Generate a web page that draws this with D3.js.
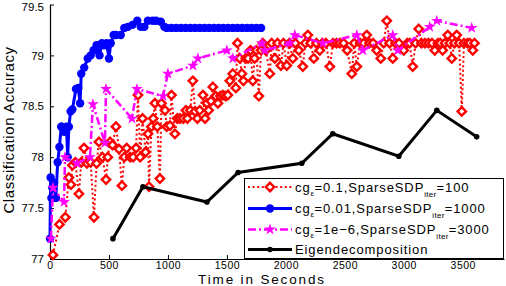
<!DOCTYPE html>
<html>
<head>
<meta charset="utf-8">
<script src="https://cdn.jsdelivr.net/npm/d3@7"></script>
<style>
  body { margin: 0; background: #fff; }
  svg { display: block; font-family: "Liberation Sans", Arial, sans-serif; }
</style>
</head>
<body>
<div id="chart"></div>
<script>
// time (s), accuracy pairs
var redSeries = [
  [25,77.04],[80,77.34],[130,77.41],[160,77.8],[178,77.73],[190,77.92],[215,77.95],[245,77.64],
  [265,77.95],[288,78.09],[313,77.94],[345,77.95],[373,77.41],[395,77.94],[415,78.15],[445,78.0],
  [475,77.78],[490,78.0],[510,78.15],[530,78.12],[559,78.3],[585,78.08],[610,77.72],[630,78.0],
  [650,78.09],[680,78.0],[705,78.0],[730,78.09],[746,78.61],[765,78.0],[785,78.38],[810,78.05],
  [831,78.23],[840,77.71],[860,78.3],[875,78.38],[890,78.53],[910,78.3],[932,77.79],[945,78.53],
  [975,78.46],[990,78.3],[1017,78.31],[1030,78.61],[1059,78.23],[1080,78.38],[1102,78.38],[1130,78.38],
  [1153,78.46],[1165,78.38],[1190,78.46],[1211,78.75],[1230,78.45],[1250,78.38],[1270,78.46],[1297,78.61],
  [1315,78.38],[1331,78.53],[1345,78.46],[1365,78.55],[1381,78.69],[1405,78.6],[1424,78.53],[1445,78.6],
  [1466,78.61],[1490,78.6],[1508,78.61],[1525,78.75],[1550,78.82],[1576,78.68],[1590,79.12],[1610,78.97],
  [1627,78.82],[1640,78.75],[1660,78.97],[1680,78.97],[1700,79.05],[1720,78.75],[1735,78.97],[1750,79.05],
  [1771,78.6],[1790,79.05],[1805,79.12],[1830,79.05],[1864,78.82],[1880,79.12],[1907,78.97],[1930,79.12],
  [1958,78.9],[1980,79.12],[2008,78.9],[2030,79.12],[2059,78.97],[2080,79.12],[2110,79.05],[2144,78.89],
  [2165,79.12],[2186,79.2],[2210,79.12],[2237,78.97],[2260,79.12],[2288,79.05],[2310,79.12],[2340,79.12],
  [2373,78.89],[2400,79.12],[2430,79.12],[2458,79.12],[2490,79.12],[2520,79.05],[2559,78.82],[2580,79.12],
  [2602,78.89],[2630,79.12],[2660,79.12],[2686,79.2],[2710,79.12],[2740,79.12],[2770,79.05],[2805,78.97],
  [2830,79.12],[2856,79.34],[2880,79.12],[2907,78.97],[2930,79.12],[2960,79.12],[3000,79.05],[3030,79.12],
  [3050,79.12],[3076,78.89],[3100,79.12],[3127,79.26],[3150,79.12],[3180,79.12],[3210,79.12],[3240,79.12],
  [3263,79.05],[3290,79.12],[3310,79.12],[3330,79.05],[3350,79.12],[3373,79.2],[3390,79.12],[3407,78.97],
  [3430,79.12],[3449,79.2],[3470,79.12],[3492,78.45],[3510,79.12],[3540,79.12],[3560,79.12],[3585,79.05],
  [3600,79.12]
];

var blueSeries = [
  [0,77.2],[5,77.8],[12,77.6],[20,77.7],[35,77.75],[50,77.6],[65,77.95],[80,78.1],[95,78.3],
  [100,78.3],[120,78.25],[140,78.3],[150,78.0],[160,78.3],[175,78.45],[190,78.47],[220,78.67],
  [240,78.68],[255,78.53],[265,78.82],[290,78.88],[320,78.97],[345,79.0],[370,79.05],[395,79.1],
  [420,79.0],[440,79.12],[460,79.1],[480,79.12],[500,78.97],[515,79.12],[540,79.2],[560,79.2],
  [600,79.2],[630,79.27],[660,79.28],[700,79.3],[740,79.34],[770,79.28],[800,79.28],[830,79.34],
  [870,79.34],[900,79.34],[940,79.33],[970,79.28],[990,79.27],[1030,79.27],[1070,79.27],[1110,79.27],
  [1150,79.27],[1190,79.27],[1230,79.27],[1270,79.27],[1310,79.27],[1350,79.27],[1390,79.27],
  [1430,79.27],[1470,79.27],[1510,79.27],[1550,79.27],[1590,79.27],[1630,79.27],[1670,79.27],
  [1710,79.27],[1750,79.27],[1790,79.27]
];

var magentaSeries = [
  [8,77.2],[25,77.7],[119,77.56],[127,78.0],[229,77.94],[339,78.0],[364,78.52],[466,78.14],
  [475,78.67],[695,78.38],[737,78.67],[958,78.6],[1000,78.82],[1212,78.9],[1254,78.97],[1500,79.05],
  [1551,78.97],[1797,79.12],[1822,79.05],[2034,79.12],[2076,79.2],[2314,79.12],[2602,79.2],
  [2653,79.05],[2907,79.2],[2949,79.05],[3220,79.28],[3280,79.34],[3576,79.27]
];

var blackSeries = [
  [534,77.2],[788,77.71],[1331,77.56],[1595,77.85],[2135,77.94],[2398,78.23],[2958,78.01],
  [3280,78.46],[3618,78.2]
];

var xTicks = [0, 500, 1000, 1500, 2000, 2500, 3000, 3500];
var yTicks = [77, 77.5, 78, 78.5, 79, 79.5];

var W = 506, H = 286;
var x = d3.scaleLinear().domain([0, 3850]).range([50, 504]);
var y = d3.scaleLinear().domain([77, 79.5]).range([259, 4.5]);

var svg = d3.select('#chart').append('svg')
  .attr('width', W)
  .attr('height', H);

// axes, ticks pointing inwards like matlab
var xAxis = svg.append('g')
  .attr('transform', 'translate(0,' + y(77) + ')')
  .call(d3.axisBottom(x).tickValues(xTicks).tickSizeInner(-4).tickSizeOuter(0).tickPadding(3).tickFormat(d3.format('d')));
var yAxis = svg.append('g')
  .attr('transform', 'translate(' + x(0) + ',0)')
  .call(d3.axisLeft(y).tickValues(yTicks).tickSizeInner(-4).tickSizeOuter(0).tickPadding(6).tickFormat(function (d) { return d; }));

[xAxis, yAxis].forEach(function (ax) {
  ax.select('.domain').attr('stroke', '#000').attr('stroke-width', 1.2);
  ax.selectAll('.tick line').attr('stroke', '#000');
  ax.selectAll('.tick text').attr('fill', '#000')
    .style('font-size', '11.5px').style('font-family', '"Liberation Sans", Arial, sans-serif');
});
xAxis.selectAll('.tick text').style('font-size', '10.5px').style('letter-spacing', '0.5px');
// keep the top label inside the picture
yAxis.selectAll('.tick text').filter(function (d) { return d === 79.5; }).attr('dy', '0.5em');

svg.append('text')
  .attr('x', 262).attr('y', 284)
  .attr('text-anchor', 'middle')
  .style('font-size', '13.5px')
  .style('letter-spacing', '1.85px')
  .text('Time in Seconds');

svg.append('text')
  .attr('transform', 'translate(14,130) rotate(-90)')
  .attr('text-anchor', 'middle')
  .style('font-size', '15px')
  .style('letter-spacing', '0.6px')
  .text('Classification Accuracy');

var line = d3.line()
  .x(function (d) { return x(d[0]); })
  .y(function (d) { return y(d[1]); });

function diamond(r) {
  return 'M0,' + (-r) + 'L' + r + ',0L0,' + r + 'L' + (-r) + ',0Z';
}
var starPath = d3.symbol().type(d3.symbolStar).size(42)();

var series = [
  { data: redSeries, color: '#ff0000', width: 2, dash: '2,2.6', kind: 'diamond' },
  { data: blueSeries, color: '#0000ff', width: 3, dash: null, kind: 'circle' },
  { data: magentaSeries, color: '#ff00ff', width: 2.5, dash: '8,3,2,3', kind: 'star' },
  { data: blackSeries, color: '#000000', width: 3, dash: null, kind: 'dot' }
];

function addMarker(g, kind, color) {
  if (kind === 'diamond') {
    g.append('path').attr('d', diamond(4.2)).attr('fill', '#fff')
      .attr('stroke', color).attr('stroke-width', 2.4);
  } else if (kind === 'circle') {
    g.append('circle').attr('r', 4.2).attr('fill', color);
  } else if (kind === 'star') {
    g.append('path').attr('d', starPath).attr('fill', color);
  } else {
    g.append('circle').attr('r', 2.8).attr('fill', color);
  }
}

series.forEach(function (s) {
  var g = svg.append('g');
  g.append('path')
    .datum(s.data)
    .attr('d', line)
    .attr('fill', 'none')
    .attr('stroke', s.color)
    .attr('stroke-width', s.width)
    .attr('stroke-dasharray', s.dash);
  g.selectAll('g.m')
    .data(s.data)
    .enter()
    .append('g')
    .attr('class', 'm')
    .attr('transform', function (d) { return 'translate(' + x(d[0]) + ',' + y(d[1]) + ')'; })
    .each(function () { addMarker(d3.select(this), s.kind, s.color); });
});

// legend
var legend = svg.append('g');
legend.append('rect')
  .attr('x', 244.5).attr('y', 178.5)
  .attr('width', 259).attr('height', 80)
  .attr('fill', '#fff').attr('stroke', '#000').attr('stroke-width', 1);

var legendRows = [
  { sub1: 'ε', a: '=0.1,SparseSDP', b: '=100' },
  { sub1: 'ε', a: '=0.01,SparseSDP', b: '=1000' },
  { sub1: 'ε', a: '=1e\u22126,SparseSDP', b: '=3000' },
  { plain: 'Eigendecomposition' }
];
var rowY = [187, 208.5, 229.5, 249.5];

legendRows.forEach(function (row, i) {
  var s = series[i];
  var ly = rowY[i];
  legend.append('line')
    .attr('x1', 248).attr('x2', 292).attr('y1', ly).attr('y2', ly)
    .attr('stroke', s.color).attr('stroke-width', s.width)
    .attr('stroke-dasharray', s.dash);
  var mg = legend.append('g').attr('transform', 'translate(270,' + ly + ')');
  addMarker(mg, s.kind, s.color);

  var t = legend.append('text')
    .attr('x', 295).attr('y', ly + 4.5)
    .style('font-size', '13px')
    .style('letter-spacing', '0.9px');
  if (row.plain) {
    t.text(row.plain);
  } else {
    t.append('tspan').text('cg');
    t.append('tspan').attr('dy', 4).style('font-size', '8px').style('letter-spacing', '0.3px').text(row.sub1);
    t.append('tspan').attr('dy', -4).text(row.a);
    t.append('tspan').attr('dy', 5).style('font-size', '8px').style('letter-spacing', '0.3px').text('iter');
    t.append('tspan').attr('dy', -5).text(row.b);
  }
});
</script>
</body>
</html>
